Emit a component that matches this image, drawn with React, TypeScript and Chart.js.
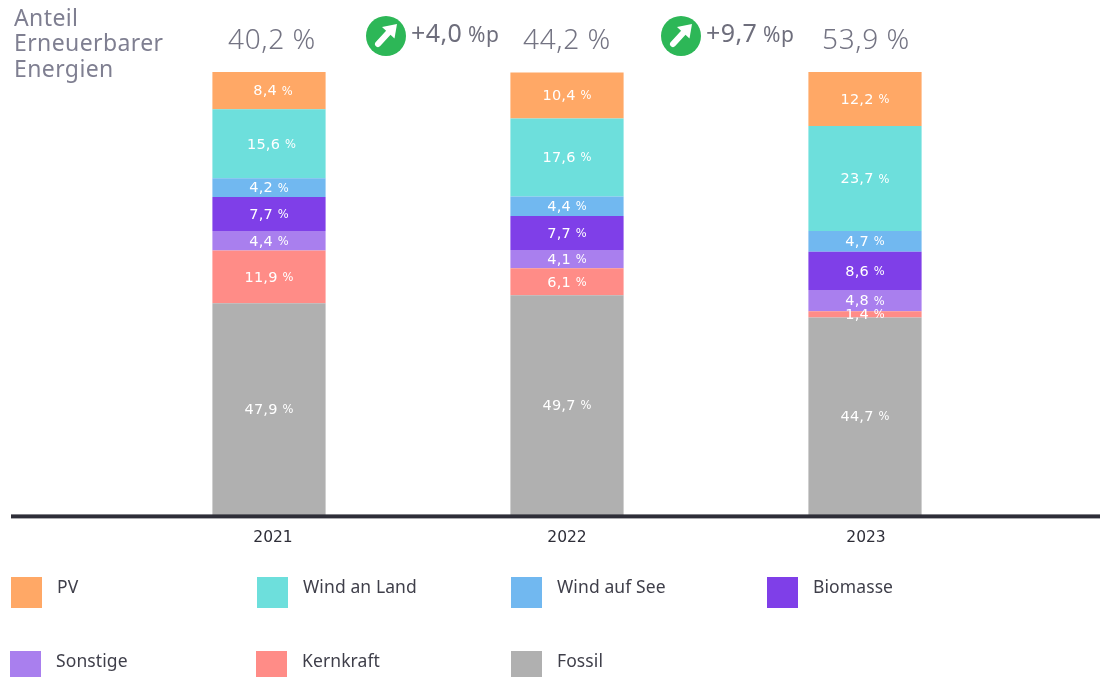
import React, { useEffect, useRef } from "react";
import { Chart, registerables } from "chart.js";

Chart.register(...registerables);

const years = ["2021", "2022", "2023"];
const pv = [8.4, 10.4, 12.2];
const windLand = [15.6, 17.6, 23.7];
const windSee = [4.2, 4.4, 4.7];
const biomasse = [7.7, 7.7, 8.6];
const sonstige = [4.4, 4.1, 4.8];
const kernkraft = [11.9, 6.1, 1.4];
const fossil = [47.9, 49.7, 44.7];
const shareRenewable = ["40,2", "44,2", "53,9"];
const deltas = ["+4,0", "+9,7"];
const titleLines = ["Anteil", "Erneuerbarer", "Energien"];

const FONT = '"Noto Sans", sans-serif';
const LABEL_FONT = '"DejaVu Sans", sans-serif';
const labelNudge: Record<string, number[]> = { PV: [4, 0, 0], "Wind an Land": [2.5, 0, 0] };
const tickNudge = [4, 0, 1];
const shareNudge = [3, 0, 1];

const series = [
  { label: "Fossil", data: fossil, color: "#b0b0b0" },
  { label: "Kernkraft", data: kernkraft, color: "#ff8c87" },
  { label: "Sonstige", data: sonstige, color: "#a97fee" },
  { label: "Biomasse", data: biomasse, color: "#7f3fe8" },
  { label: "Wind auf See", data: windSee, color: "#71b8f0" },
  { label: "Wind an Land", data: windLand, color: "#6ddfdc" },
  { label: "PV", data: pv, color: "#ffa866" },
];

const legendSlots: Record<string, [number, number, number, number, number]> = {
  PV: [11, 577, 31, 31, 57],
  "Wind an Land": [257, 577, 31, 31, 303],
  "Wind auf See": [511, 577, 31, 31, 557],
  Biomasse: [767, 577, 31, 31, 813],
  Sonstige: [10, 651, 31, 26, 56],
  Kernkraft: [256, 651, 31, 26, 302],
  Fossil: [511, 651, 31, 26, 557],
};
const legendTextY: Record<string, number> = {
  PV: 588, "Wind an Land": 588, "Wind auf See": 588, Biomasse: 588,
  Sonstige: 662, Kernkraft: 662, Fossil: 662,
};

function drawBadge(ctx: CanvasRenderingContext2D, cx: number, cy: number) {
  ctx.save();
  ctx.fillStyle = "#2db757";
  ctx.beginPath();
  ctx.arc(cx, cy, 20, 0, Math.PI * 2);
  ctx.fill();
  ctx.strokeStyle = "#fff";
  ctx.lineWidth = 6;
  ctx.lineCap = "round";
  ctx.beginPath();
  ctx.moveTo(cx - 8, cy + 8);
  ctx.lineTo(cx + 3, cy - 4);
  ctx.stroke();
  ctx.fillStyle = "#fff";
  ctx.beginPath();
  ctx.moveTo(cx + 11, cy - 12);
  ctx.lineTo(cx - 4, cy - 9);
  ctx.lineTo(cx + 8.5, cy + 2.5);
  ctx.closePath();
  ctx.fill();
  ctx.restore();
}

const decorations = {
  id: "decorations",
  afterDatasetsDraw(chart: any) {
    const ctx: any = chart.ctx;
    const xScale = chart.scales.x;
    const area = chart.chartArea;
    ctx.save();
    ctx.textBaseline = "middle";

    // values inside the bars
    chart.data.datasets.forEach((ds: any, d: number) => {
      const meta = chart.getDatasetMeta(d);
      ds.data.forEach((v: number, i: number) => {
        const p = meta.data[i].getCenterPoint();
        const num = String(v.toFixed(1)).replace(".", ",");
        ctx.fillStyle = "#fff";
        ctx.letterSpacing = "0.2px";
        ctx.font = `14.5px ${LABEL_FONT}`;
        const w1 = ctx.measureText(num + " ").width;
        ctx.font = `11.5px ${LABEL_FONT}`;
        const w2 = ctx.measureText("%").width;
        const nudge = (labelNudge[ds.label] || [0, 0, 0])[i];
        const x0 = p.x + nudge - (w1 + w2) / 2;
        ctx.textAlign = "left";
        ctx.font = `14.5px ${LABEL_FONT}`;
        ctx.fillText(num, x0, p.y + 1);
        ctx.font = `11.5px ${LABEL_FONT}`;
        ctx.fillText("%", x0 + w1, p.y + 1);
      });
    });

    // share above each bar
    ctx.fillStyle = "#747483";
    ctx.letterSpacing = "0.6px";
    ctx.font = `300 28px ${FONT}`;
    ctx.textAlign = "center";
    shareRenewable.forEach((s, i) => {
      ctx.fillText(`${s} %`, xScale.getPixelForValue(i) + shareNudge[i], 41);
    });

    // deltas
    deltas.forEach((s, i) => {
      const mid = (xScale.getPixelForValue(i) + xScale.getPixelForValue(i + 1)) / 2;
      const cx = mid - 32 - i * 3;
      drawBadge(ctx, cx, 36);
      ctx.fillStyle = "#6e6e7c";
      ctx.textAlign = "left";
      ctx.letterSpacing = "0.4px";
      ctx.font = `25px ${FONT}`;
      ctx.fillText(s, cx + 25, 35);
      const w = ctx.measureText(s + " ").width;
      ctx.font = `21px ${FONT}`;
      ctx.fillText("%p", cx + 25 + w - 1, 36);
    });

    // heading
    ctx.fillStyle = "#7f7f91";
    ctx.letterSpacing = "0.4px";
    ctx.font = `23px ${FONT}`;
    ctx.textAlign = "left";
    titleLines.forEach((line, i) => ctx.fillText(line, 14, 19 + i * 25.5));

    // base line
    ctx.fillStyle = "#2e2e38";
    ctx.fillRect(11, area.bottom - 1, 1089, 4);

    // legend
    ctx.letterSpacing = "0.1px";
    ctx.font = `17.5px ${FONT}`;
    chart.data.datasets.forEach((ds: any) => {
      const [x, y, w, h, tx] = legendSlots[ds.label];
      ctx.fillStyle = ds.backgroundColor;
      ctx.fillRect(x, y, w, h);
      ctx.fillStyle = "#3f3f4a";
      ctx.fillText(ds.label, tx, legendTextY[ds.label]);
    });
    ctx.restore();
  },
};

export default function App() {
  const ref = useRef<HTMLCanvasElement>(null);
  useEffect(() => {
    const chart = new Chart(ref.current!, {
      type: "bar",
      data: {
        labels: years,
        datasets: series.map((s) => ({
          label: s.label,
          data: s.data,
          backgroundColor: s.color,
          borderWidth: 0,
          barPercentage: 0.385,
          categoryPercentage: 1,
        })),
      },
      options: {
        responsive: false,
        animation: false,
        layout: { padding: { left: 120, right: 86, top: 72, bottom: 117 } },
        plugins: { legend: { display: false }, tooltip: { enabled: false }, title: { display: false } },
        scales: {
          x: {
            stacked: true,
            grid: { display: false, drawTicks: false },
            border: { display: false },
            ticks: { color: "#2e2e38", font: { size: 15.5, family: LABEL_FONT }, padding: 13, maxRotation: 0 },
            afterUpdate(scale: any) {
              const base = scale.getPixelForTick.bind(scale);
              scale.getPixelForTick = (i: number) => base(i) + tickNudge[i];
            },
          },
          y: { stacked: true, display: false, min: 0, max: 100.1 },
        },
      },
      plugins: [decorations],
    } as any);
    return () => chart.destroy();
  }, []);
  return (
    <div style={{ position: "fixed", left: 0, top: 0, width: 1100, height: 677, background: "#fff" }}>
      <canvas ref={ref} width={1100} height={677} style={{ display: "block" }} />
    </div>
  );
}
